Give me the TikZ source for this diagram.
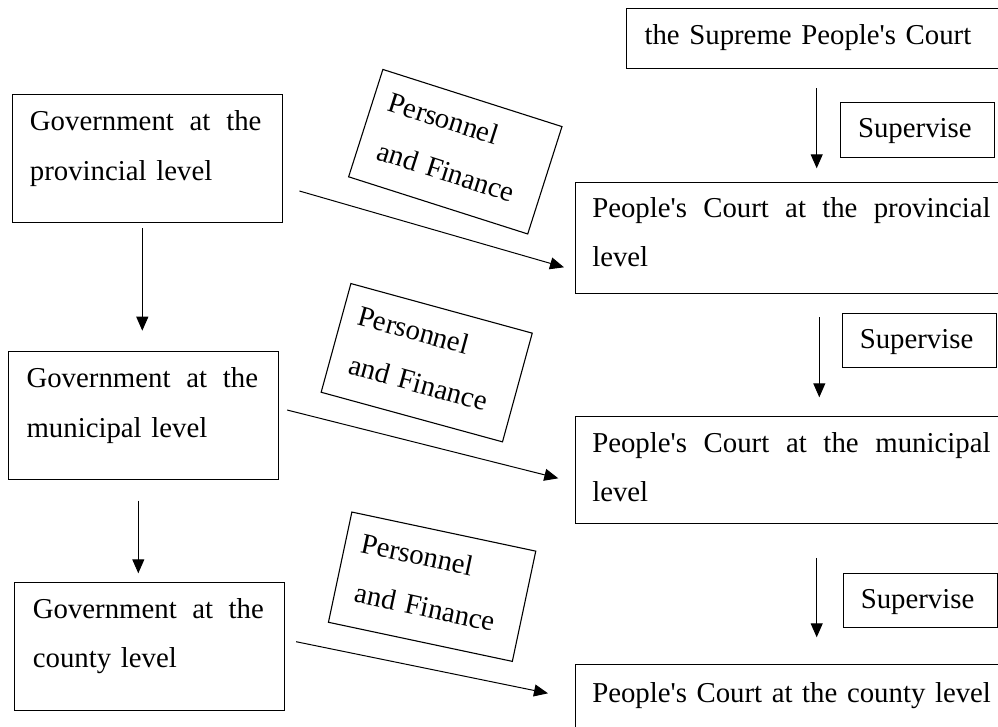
\documentclass[tikz,border=0pt]{standalone}
\usepackage{fontspec}
\setmainfont{Liberation Serif}
\usetikzlibrary{arrows.meta,calc}
\newcommand\dfont{\fontsize{28.8pt}{49.7pt}\selectfont}
\newcommand\jl[2]{\hbox to #1{#2}}
\newcommand\q{\textquotesingle}
\begin{document}
\begin{tikzpicture}[x=1pt,y=-1pt,
  bx/.style={draw=black, line width=1.1pt, inner sep=0pt, font=\dfont, anchor=north west, align=left},
  govbox/.style={bx, text width=270pt, text height=36pt, text depth=92pt},
  courtbox/.style={bx, text width=435pt},
  supbox/.style={bx, text width=154pt, text height=35.3pt, text depth=19.2pt},
  pfbox/.style={bx, anchor=center, text width=188pt, text height=38pt, text depth=74.7pt},
  arr/.style={-{Triangle[length=14pt,width=12pt]}, line width=1pt}
]
\useasboundingbox (0,0) rectangle (998,726);

% Government boxes
\node[govbox] (g1) at (11.7,94.3) {\hspace*{17.7pt}\jl{231.5pt}{Government\hfill at\hfill the}\\\hspace*{17.7pt}provincial level};
\node[govbox] (g2) at (8.3,351) {\hspace*{17.7pt}\jl{231.5pt}{Government\hfill at\hfill the}\\\hspace*{17.7pt}municipal level};
\node[govbox] (g3) at (14.3,581.7) {\hspace*{18pt}\jl{231pt}{Government\hfill at\hfill the}\\\hspace*{18pt}county level};

% Court boxes
\node[bx, text width=384pt, text height=36pt, text depth=24.3pt] (sup) at (626,8) {\hspace*{18pt}the Supreme People\q s Court};
\node[courtbox, text height=35pt, text depth=76pt] (c1) at (575,181.7) {\hspace*{16.7pt}\jl{398.3pt}{People\q s\hfill Court\hfill at\hfill the\hfill provincial}\\\hspace*{16.7pt}level};
\node[courtbox, text height=35.7pt, text depth=71pt] (c2) at (575,416) {\hspace*{16.7pt}\jl{398.3pt}{People\q s\hfill Court\hfill at\hfill the\hfill municipal}\\\hspace*{16.7pt}level};
\node[courtbox, text height=37.4pt, text depth=80pt] (c3) at (575,664.3) {\hspace*{16.7pt}People\q s Court at the county level};

% Supervise boxes
\node[supbox] (s1) at (840,102) {\hspace*{17.5pt}Supervise};
\node[supbox] (s2) at (841.7,312.7) {\hspace*{17.5pt}Supervise};
\node[supbox] (s3) at (842.7,572.7) {\hspace*{17.5pt}Supervise};

% Personnel and Finance boxes
\node[pfbox, rotate=-17.7] (pf1) at (455.3,151.7) {\hspace*{16pt}Personnel\\\hspace*{20pt}and Finance};
\node[pfbox, rotate=-15.3] (pf2) at (426.7,362.7) {\hspace*{16pt}Personnel\\\hspace*{20pt}and Finance};
\node[pfbox, rotate=-12] (pf3) at (432.1,586.7) {\hspace*{16pt}Personnel\\\hspace*{20pt}and Finance};

% Vertical arrows between governments
\coordinate (a1) at ($(g1.south west)+(130.6,0)$);
\draw[arr, shorten <=5pt, shorten >=20.3pt] (a1) -- (a1 |- g2.north);
\coordinate (a2) at ($(g2.south west)+(130,0)$);
\draw[arr, shorten <=20.6pt, shorten >=8.4pt] (a2) -- (a2 |- g3.north);

% Supervise arrows
\coordinate (b1) at ($(sup.south west)+(190.7,0)$);
\draw[arr, shorten <=19pt, shorten >=13.4pt] (b1) -- (b1 |- c1.north);
\coordinate (b2) at ($(c1.south west)+(244.3,0)$);
\draw[arr, shorten <=23.3pt, shorten >=18.7pt] (b2) -- (b2 |- c2.north);
\coordinate (b3) at ($(c2.south west)+(241.7,0)$);
\draw[arr, shorten <=34pt, shorten >=27pt] (b3) -- (b3 |- c3.north);

% Personnel and finance arrows
\draw[arr] ($(g1.north east)+(16.6,96.7)$) -- ($(c1.north west)+(-11,85.6)$);
\draw[arr] ($(g2.north east)+(7.7,59)$) -- ($(c2.north west)+(-16.7,62.3)$);
\draw[arr] ($(g3.north east)+(10.7,60)$) -- ($(c3.north west)+(-27,29)$);
\end{tikzpicture}
\end{document}
